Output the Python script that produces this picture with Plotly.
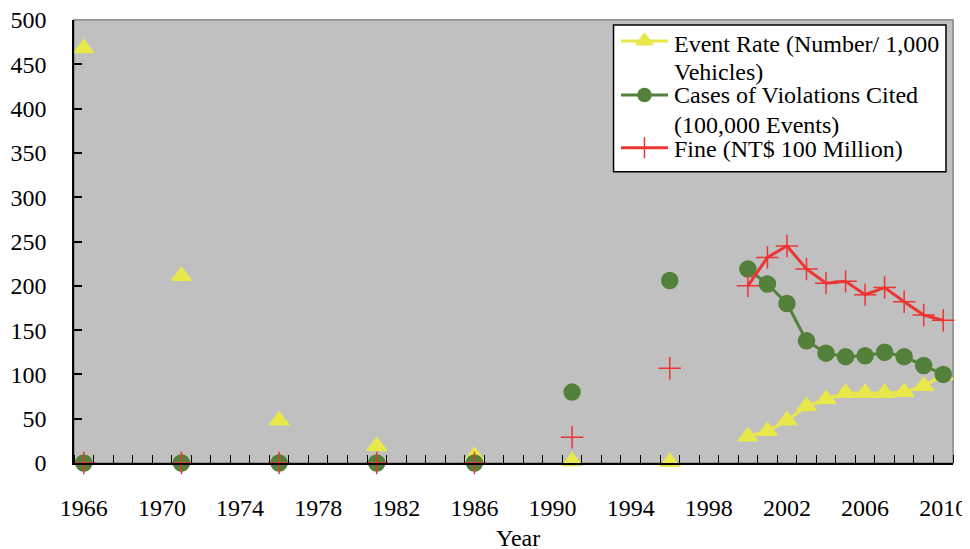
import plotly.graph_objects as go

years = [1966, 1971, 1976, 1981, 1986, 1991, 1996, 2000, 2001, 2002, 2003,
         2004, 2005, 2006, 2007, 2008, 2009, 2010]
event_rate = [468, 211, 48, 19, 8, 2, 1, 30, 36, 48, 64, 72, 79, 79, 79, 80, 87, 99]
violations = [0, 0, 0, 0, 0, 80, 206, 219, 202, 180, 138, 124, 120, 121, 125, 120, 110, 100]
fine = [0, 0, 0, 0, 0, 29, 107, 200, 232, 245, 219, 203, 205, 190, 198, 182, 167, 161]
tick_years = list(range(1966, 2011, 4))

series_names = ["Event Rate (Number/ 1,000 Vehicles)",
                "Cases of Violations Cited (100,000 Events)",
                "Fine (NT$ 100 Million)"]
legend_lines = [["Event Rate (Number/ 1,000", "Vehicles)"],
                ["Cases of Violations Cited", "(100,000 Events)"],
                ["Fine (NT$ 100 Million)"]]

all_years = list(range(1966, 2011))


def fill(vals):
    m = dict(zip(years, vals))
    return [m.get(y) for y in all_years]


YEL = "#E8E84A"
GRN = "#53803A"
RED = "#EE3333"
colors = [YEL, GRN, RED]
symbols = ["triangle-up", "circle", "cross-thin"]
sizes = [17, 16, 16]
leg_sizes = [15, 13, 15]

fig = go.Figure()
for vals, name, c, s, sz in zip([event_rate, violations, fine], series_names,
                                colors, symbols, sizes):
    fig.add_trace(go.Scatter(
        x=all_years, y=fill(vals), name=name, mode="lines+markers",
        connectgaps=False, cliponaxis=False, showlegend=False,
        line=dict(color=c, width=3),
        marker=dict(symbol=s, size=sz, color=c, line=dict(color=c, width=1.5))))

font = dict(family="Liberation Serif, Times New Roman, serif", size=24, color="black")

# custom legend (paper coordinates)
box = dict(x0=0.6138, x1=0.9920, y0=0.6576, y1=0.9887)
sym_x0, sym_x1, sym_xm = 0.6223, 0.6758, 0.6490
sym_y = [0.9526, 0.8307, 0.7117]
text_x = 0.6803
text_y = [[0.9454, 0.8837], [0.8296, 0.7619], [0.7084]]

shapes = [dict(type="rect", xref="paper", yref="paper", x0=0, x1=1, y0=0, y1=1,
               line=dict(color="#999999", width=2), layer="below"),
          dict(type="rect", xref="paper", yref="paper", layer="below",
               fillcolor="white", line=dict(color="black", width=1.5), **box)]
annotations = [dict(text="Year", xref="paper", yref="paper", x=0.505, y=-0.170,
                    xanchor="center", yanchor="middle", showarrow=False, font=font)]
for i in range(3):
    shapes.append(dict(type="line", xref="paper", yref="paper", layer="below",
                       x0=sym_x0, x1=sym_x1, y0=sym_y[i], y1=sym_y[i],
                       line=dict(color=colors[i], width=3)))
    fig.add_trace(go.Scatter(
        x=[sym_xm], y=[sym_y[i]], xaxis="x2", yaxis="y2", mode="markers",
        showlegend=False, cliponaxis=False, hoverinfo="skip",
        marker=dict(symbol=symbols[i], size=leg_sizes[i], color=colors[i],
                    line=dict(color=colors[i], width=1.5))))
    for line, ty in zip(legend_lines[i], text_y[i]):
        annotations.append(dict(text=line, xref="paper", yref="paper", x=text_x, y=ty,
                                xanchor="left", yanchor="middle", showarrow=False,
                                font=font))

fig.update_layout(
    width=962, height=541,
    margin=dict(l=66, r=17, t=12, b=86),
    paper_bgcolor="white", plot_bgcolor="#C0C0C0",
    font=font,
    showlegend=False,
    xaxis=dict(range=[1965.5, 2010.5], tickvals=tick_years,
               ticktext=[str(y) for y in tick_years],
               ticks="", showgrid=False, zeroline=False, automargin=False,
               showline=True, linecolor="black", linewidth=1.5,
               ticklabelstandoff=22, ticklabeloverflow="allow",
               minor=dict(tickvals=[y + 0.5 for y in range(1965, 2011)],
                          ticks="inside", ticklen=8, tickcolor="black",
                          tickwidth=1, showgrid=False)),
    yaxis=dict(range=[0, 500], dtick=50, ticks="inside", ticklen=8,
               tickcolor="black", tickwidth=1.5, automargin=False,
               showgrid=False, zeroline=False,
               showline=True, linecolor="black", linewidth=1.5,
               ticklabelstandoff=21, ticklabeloverflow="allow"),
    xaxis2=dict(overlaying="x", range=[0, 1], visible=False, fixedrange=True),
    yaxis2=dict(overlaying="y", range=[0, 1], visible=False, fixedrange=True),
    shapes=shapes,
    annotations=annotations,
)

fig.write_html("out.html")
